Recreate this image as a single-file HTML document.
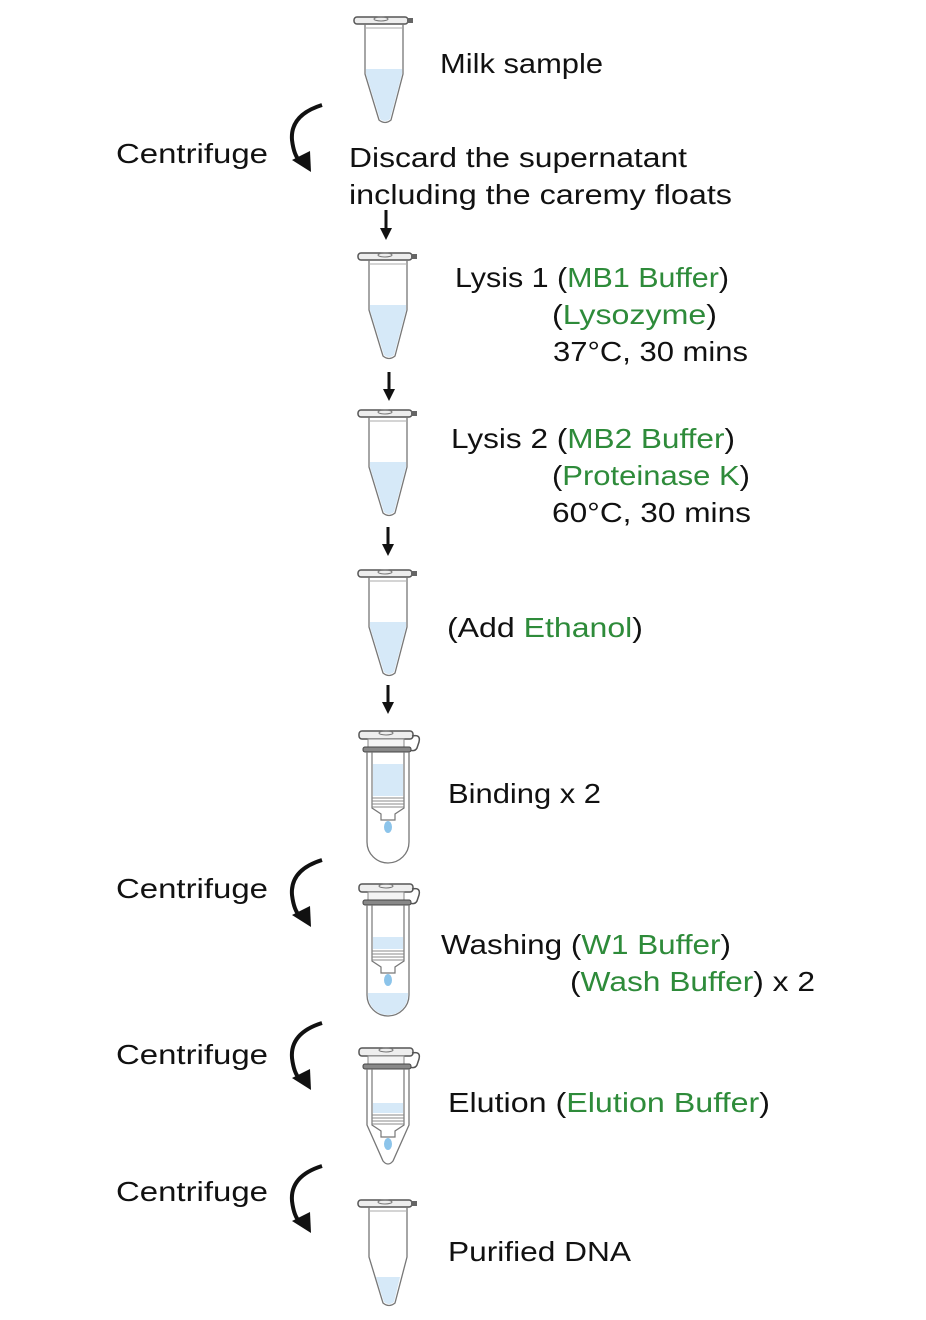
<!DOCTYPE html>
<html><head><style>
html,body{margin:0;padding:0;background:#fff}
svg{display:block}
text{font-family:"Liberation Sans",sans-serif;font-size:28px;fill:#111}
.g{fill:#2e8b3a}
</style></head><body>
<svg width="926" height="1320" viewBox="0 0 926 1320" xmlns="http://www.w3.org/2000/svg">
<defs>
<g id="cap">
 <rect x="2" y="3" width="54" height="7" rx="3" fill="#eee" stroke="#555" stroke-width="1.5"/>
 <ellipse cx="29" cy="5" rx="7" ry="2" fill="none" stroke="#777" stroke-width="1"/>
 <rect x="55" y="4" width="6" height="5" fill="#666"/>
</g>
<g id="tube">
 <use href="#cap"/>
 <path d="M13,10 L13,60 L27,106 Q33,111 39,106 L51,60 L51,10" fill="none" stroke="#777" stroke-width="1.3"/>
 <line x1="13" y1="14" x2="51" y2="14" stroke="#aaa" stroke-width="1"/>
</g>
<g id="col">
 <rect x="2" y="3" width="54" height="8" rx="3" fill="#eee" stroke="#555" stroke-width="1.5"/>
 <ellipse cx="29" cy="5" rx="7" ry="2" fill="none" stroke="#777" stroke-width="1"/>
 <path d="M55,8 Q64,6 62,14 L60,20 Q58,24 52,22" fill="none" stroke="#555" stroke-width="1.5"/>
 <rect x="11" y="11" width="36" height="8" fill="#f4f4f4" stroke="#888" stroke-width="1"/>
 <rect x="6" y="19" width="48" height="5" rx="2" fill="#888" stroke="#444" stroke-width="1"/>
 <path d="M15,24 L15,80 L24,86 L24,92 L38,92 L38,86 L47,80 L47,24" fill="none" stroke="#777" stroke-width="1.2"/>
 <g stroke="#888" stroke-width="1"><line x1="15" y1="70" x2="47" y2="70"/><line x1="15" y1="73" x2="47" y2="73"/><line x1="15" y1="76" x2="47" y2="76"/><line x1="15" y1="79" x2="47" y2="79"/></g>
 <ellipse cx="31" cy="99" rx="4" ry="6" fill="#8cc4ea"/>
</g>
</defs>

<g transform="translate(352,14)">
 <path d="M14,55 L50,55 L50,60 L38,105 Q33,109 28,105 L14,60 Z" fill="#d6e9f8"/>
 <use href="#tube"/>
</g>
<text x="440" y="73" textLength="163" lengthAdjust="spacingAndGlyphs">Milk sample</text>

<g fill="none" stroke="#111" stroke-width="4">
 <path d="M322,105 Q290,115 292,140 Q294,156 300,161"/>
 <path d="M322,860 Q290,870 292,895 Q294,911 300,916"/>
 <path d="M322,1023 Q290,1033 292,1058 Q294,1074 300,1079"/>
 <path d="M322,1166 Q290,1176 292,1201 Q294,1217 300,1222"/>
</g>
<g fill="#111">
 <path d="M292,160 L311,172 L310,151 Z"/>
 <path d="M292,915 L311,927 L310,906 Z"/>
 <path d="M292,1078 L311,1090 L310,1069 Z"/>
 <path d="M292,1221 L311,1233 L310,1212 Z"/>
</g>
<text x="116" y="163" textLength="152" lengthAdjust="spacingAndGlyphs">Centrifuge</text>
<text x="116" y="898" textLength="152" lengthAdjust="spacingAndGlyphs">Centrifuge</text>
<text x="116" y="1064" textLength="152" lengthAdjust="spacingAndGlyphs">Centrifuge</text>
<text x="116" y="1201" textLength="152" lengthAdjust="spacingAndGlyphs">Centrifuge</text>

<text x="349" y="167" textLength="338" lengthAdjust="spacingAndGlyphs">Discard the supernatant</text>
<text x="349" y="204" textLength="383" lengthAdjust="spacingAndGlyphs">including the caremy floats</text>

<g stroke="#111" stroke-width="3"><line x1="386" y1="210" x2="386" y2="230"/><line x1="389" y1="372" x2="389" y2="391"/><line x1="388" y1="527" x2="388" y2="546"/><line x1="388" y1="685" x2="388" y2="704"/></g>
<g fill="#111"><path d="M380,228 L392,228 L386,240 Z"/><path d="M383,389 L395,389 L389,401 Z"/><path d="M382,544 L394,544 L388,556 Z"/><path d="M382,702 L394,702 L388,714 Z"/></g>

<g transform="translate(356,250)">
 <path d="M14,55 L50,55 L50,60 L38,105 Q33,109 28,105 L14,60 Z" fill="#d6e9f8"/>
 <use href="#tube"/>
</g>
<text x="455" y="287" textLength="274" lengthAdjust="spacingAndGlyphs">Lysis 1 (<tspan class="g">MB1 Buffer</tspan>)</text>
<text x="552" y="324" textLength="165" lengthAdjust="spacingAndGlyphs">(<tspan class="g">Lysozyme</tspan>)</text>
<text x="553" y="361" textLength="195" lengthAdjust="spacingAndGlyphs">37°C, 30 mins</text>

<g transform="translate(356,407)">
 <path d="M14,55 L50,55 L50,60 L38,105 Q33,109 28,105 L14,60 Z" fill="#d6e9f8"/>
 <use href="#tube"/>
</g>
<text x="451" y="448" textLength="284" lengthAdjust="spacingAndGlyphs">Lysis 2 (<tspan class="g">MB2 Buffer</tspan>)</text>
<text x="552" y="485" textLength="198" lengthAdjust="spacingAndGlyphs">(<tspan class="g">Proteinase K</tspan>)</text>
<text x="552" y="522" textLength="199" lengthAdjust="spacingAndGlyphs">60°C, 30 mins</text>

<g transform="translate(356,567)">
 <path d="M14,55 L50,55 L50,60 L38,105 Q33,109 28,105 L14,60 Z" fill="#d6e9f8"/>
 <use href="#tube"/>
</g>
<text x="447" y="637" textLength="196" lengthAdjust="spacingAndGlyphs">(Add <tspan class="g">Ethanol</tspan>)</text>

<g transform="translate(357,728)">
 <rect x="16" y="36" width="30" height="32" fill="#d6e9f8"/>
 <use href="#col"/>
 <path d="M10,24 L10,114 A21,21 0 0 0 52,114 L52,24" fill="none" stroke="#777" stroke-width="1.3"/>
</g>
<text x="448" y="803" textLength="153" lengthAdjust="spacingAndGlyphs">Binding x 2</text>

<g transform="translate(357,881)">
 <rect x="16" y="56" width="30" height="12" fill="#d6e9f8"/>
 <path d="M11,112 L51,112 L51,114 A20,20 0 0 1 11,114 Z" fill="#d6e9f8"/>
 <use href="#col"/>
 <path d="M10,24 L10,114 A21,21 0 0 0 52,114 L52,24" fill="none" stroke="#777" stroke-width="1.3"/>
</g>
<text x="441" y="954" textLength="290" lengthAdjust="spacingAndGlyphs">Washing (<tspan class="g">W1 Buffer</tspan>)</text>
<text x="570" y="991" textLength="245" lengthAdjust="spacingAndGlyphs">(<tspan class="g">Wash Buffer</tspan>) x 2</text>

<g transform="translate(357,1045)">
 <rect x="16" y="58" width="30" height="10" fill="#d6e9f8"/>
 <use href="#col"/>
 <path d="M10,24 L10,80 L26,116 Q31,122 36,116 L52,80 L52,24" fill="none" stroke="#777" stroke-width="1.3"/>
</g>
<text x="448" y="1112" textLength="322" lengthAdjust="spacingAndGlyphs">Elution (<tspan class="g">Elution Buffer</tspan>)</text>

<g transform="translate(356,1197)">
 <path d="M20,80 L44,80 L38,105 Q33,109 28,105 Z" fill="#d6e9f8"/>
 <use href="#tube"/>
</g>
<text x="448" y="1261" textLength="183" lengthAdjust="spacingAndGlyphs">Purified DNA</text>
</svg>
</body></html>
